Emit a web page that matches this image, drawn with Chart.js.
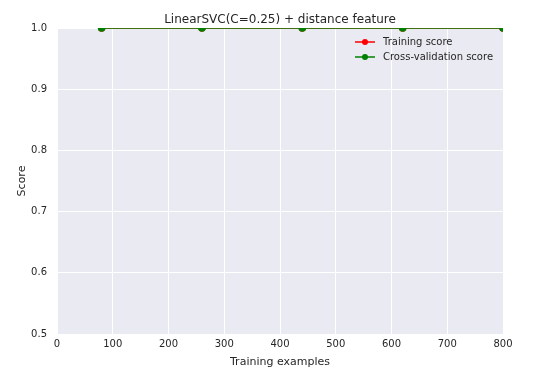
<!DOCTYPE html>
<html><head><meta charset="utf-8">
<script src="https://cdn.jsdelivr.net/npm/chart.js"></script>
<style>html,body{margin:0;padding:0;background:#fff;}#wrap{width:534px;height:373px;}</style>
</head><body><div id="wrap"><canvas id="c" width="534" height="373"></canvas></div>
<script>
const trainSizes = [80, 260, 440, 620, 800];
const trainScores = [1.0, 1.0, 1.0, 1.0, 1.0];
const cvScores = [1.0, 1.0, 1.0, 1.0, 1.0];
const chartTitle = 'LinearSVC(C=0.25) + distance feature';
const xLabel = 'Training examples';
const yLabel = 'Score';

const textColor = '#262626';
const font = 'DejaVu Sans';

const bgPlugin = {
  id: 'bg',
  beforeDraw(chart) {
    const {ctx, chartArea: a} = chart;
    ctx.save();
    ctx.fillStyle = '#EAEAF2';
    ctx.fillRect(a.left, a.top, a.right - a.left, a.bottom - a.top);
    ctx.restore();
  },
  afterDraw(chart) {
    const {ctx, chartArea: a} = chart;
    ctx.save();
    ctx.fillStyle = textColor;
    ctx.font = '12px "' + font + '"';
    ctx.textAlign = 'center';
    ctx.textBaseline = 'alphabetic';
    ctx.fillText(chartTitle, (a.left + a.right) / 2, 23);
    ctx.font = '10px "' + font + '"';
    ctx.textAlign = 'left';
    ctx.textBaseline = 'middle';
    const x0 = 355, y0 = 42, dy = 15;
    chart.data.datasets.forEach((ds, i) => {
      const y = y0 + i * dy;
      ctx.strokeStyle = ds.borderColor;
      ctx.lineWidth = 1.5;
      ctx.beginPath(); ctx.moveTo(x0, y); ctx.lineTo(x0 + 20, y); ctx.stroke();
      ctx.fillStyle = ds.borderColor;
      ctx.beginPath(); ctx.arc(x0 + 10, y, 3, 0, Math.PI * 2); ctx.fill();
      ctx.fillStyle = textColor;
      ctx.fillText(ds.label, x0 + 28, y);
    });
    ctx.restore();
  }
};

new Chart(document.getElementById('c'), {
  type: 'line',
  data: {
    datasets: [
      { label: 'Training score', data: trainSizes.map((x, i) => ({x, y: trainScores[i]})), order: 2,
        borderColor: 'red', backgroundColor: 'red', borderWidth: 1.5, pointRadius: 3, pointHoverRadius: 3, clip: 0 },
      { label: 'Cross-validation score', data: trainSizes.map((x, i) => ({x, y: cvScores[i]})), order: 1,
        borderColor: 'green', backgroundColor: 'green', borderWidth: 1.5, pointRadius: 3, pointHoverRadius: 3, clip: 0 }
    ]
  },
  options: {
    responsive: false,
    animation: false,
    layout: { padding: { left: 0, right: 31, top: 28, bottom: 0 } },
    plugins: { legend: { display: false }, title: { display: false }, tooltip: { enabled: false } },
    scales: {
      x: {
        type: 'linear', min: 0, max: 800,
        ticks: { stepSize: 100, color: textColor, font: { family: font, size: 10 }, padding: 4, maxRotation: 0 },
        grid: { color: '#ffffff', lineWidth: 1, drawTicks: false },
        border: { display: false },
        title: { display: true, text: xLabel, color: textColor, font: { family: font, size: 11 }, padding: { top: 0, bottom: 4 } },
        afterFit(s) { s.height = 39; }
      },
      y: {
        min: 0.5, max: 1.0,
        ticks: { stepSize: 0.1, color: textColor, font: { family: font, size: 10 }, padding: 10, callback: v => v.toFixed(1) },
        grid: { color: '#ffffff', lineWidth: 1, drawTicks: false },
        border: { display: false },
        title: { display: true, text: yLabel, color: textColor, font: { family: font, size: 11 }, padding: { top: 16, bottom: 0 } },
        afterFit(s) { s.width = 57; }
      }
    }
  },
  plugins: [bgPlugin]
});
</script></body></html>
